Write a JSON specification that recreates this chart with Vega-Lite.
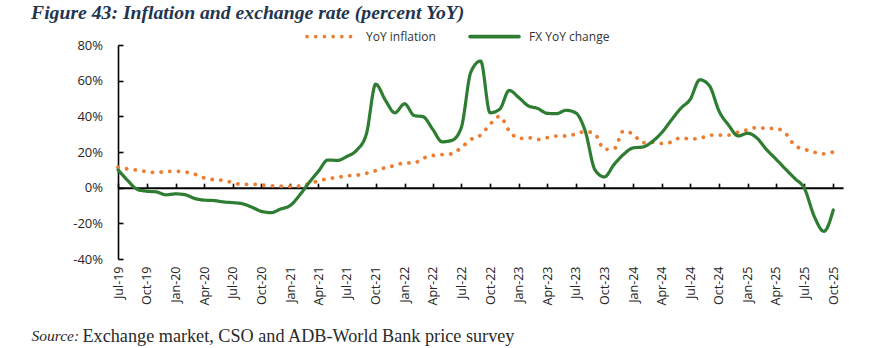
{
  "$schema": "https://vega.github.io/schema/vega-lite/v6.json",
  "width": 725,
  "height": 214,
  "autosize": "none",
  "padding": {"left": 118, "top": 45, "right": 27, "bottom": 89},
  "background": "white",
  "config": {"view": {"stroke": null}},
  "title": {
    "text": "Figure 43: Inflation and exchange rate (percent YoY)",
    "anchor": "start",
    "frame": "group",
    "dx": -87,
    "dy": 17,
    "offset": 4,
    "font": "Liberation Serif",
    "fontStyle": "italic",
    "fontWeight": "bold",
    "fontSize": 19.7,
    "color": "#1f3550"
  },
  "datasets": {
    "rows": [
      {"d":"2019-07-01","s":"YoY inflation","v":11.5},{"d":"2019-08-01","s":"YoY inflation","v":10.5},{"d":"2019-09-01","s":"YoY inflation","v":9.8},{"d":"2019-10-01","s":"YoY inflation","v":9.0},{"d":"2019-11-01","s":"YoY inflation","v":8.5},{"d":"2019-12-01","s":"YoY inflation","v":9.1},
      {"d":"2020-01-01","s":"YoY inflation","v":9.2},{"d":"2020-02-01","s":"YoY inflation","v":8.8},{"d":"2020-03-01","s":"YoY inflation","v":7.6},{"d":"2020-04-01","s":"YoY inflation","v":5.5},{"d":"2020-05-01","s":"YoY inflation","v":4.5},{"d":"2020-06-01","s":"YoY inflation","v":4.1},
      {"d":"2020-07-01","s":"YoY inflation","v":2.8},{"d":"2020-08-01","s":"YoY inflation","v":1.8},{"d":"2020-09-01","s":"YoY inflation","v":1.9},{"d":"2020-10-01","s":"YoY inflation","v":1.5},{"d":"2020-11-01","s":"YoY inflation","v":1.0},{"d":"2020-12-01","s":"YoY inflation","v":0.8},
      {"d":"2021-01-01","s":"YoY inflation","v":0.7},{"d":"2021-02-01","s":"YoY inflation","v":1.0},{"d":"2021-03-01","s":"YoY inflation","v":2.1},{"d":"2021-04-01","s":"YoY inflation","v":3.8},{"d":"2021-05-01","s":"YoY inflation","v":5.0},{"d":"2021-06-01","s":"YoY inflation","v":5.8},
      {"d":"2021-07-01","s":"YoY inflation","v":6.6},{"d":"2021-08-01","s":"YoY inflation","v":7.0},{"d":"2021-09-01","s":"YoY inflation","v":8.0},{"d":"2021-10-01","s":"YoY inflation","v":9.5},{"d":"2021-11-01","s":"YoY inflation","v":11.2},{"d":"2021-12-01","s":"YoY inflation","v":12.4},
      {"d":"2022-01-01","s":"YoY inflation","v":13.9},{"d":"2022-02-01","s":"YoY inflation","v":13.9},{"d":"2022-03-01","s":"YoY inflation","v":16.5},{"d":"2022-04-01","s":"YoY inflation","v":18.0},{"d":"2022-05-01","s":"YoY inflation","v":18.5},{"d":"2022-06-01","s":"YoY inflation","v":19.0},
      {"d":"2022-07-01","s":"YoY inflation","v":22.5},{"d":"2022-08-01","s":"YoY inflation","v":27.0},{"d":"2022-09-01","s":"YoY inflation","v":29.5},{"d":"2022-10-01","s":"YoY inflation","v":35.5},{"d":"2022-11-01","s":"YoY inflation","v":40.0},{"d":"2022-12-01","s":"YoY inflation","v":32.0},
      {"d":"2023-01-01","s":"YoY inflation","v":27.6},{"d":"2023-02-01","s":"YoY inflation","v":28.0},{"d":"2023-03-01","s":"YoY inflation","v":27.0},{"d":"2023-04-01","s":"YoY inflation","v":28.0},{"d":"2023-05-01","s":"YoY inflation","v":28.9},{"d":"2023-06-01","s":"YoY inflation","v":29.0},
      {"d":"2023-07-01","s":"YoY inflation","v":30.0},{"d":"2023-08-01","s":"YoY inflation","v":31.5},{"d":"2023-09-01","s":"YoY inflation","v":30.0},{"d":"2023-10-01","s":"YoY inflation","v":21.5},{"d":"2023-11-01","s":"YoY inflation","v":21.8},{"d":"2023-12-01","s":"YoY inflation","v":31.8},
      {"d":"2024-01-01","s":"YoY inflation","v":30.0},{"d":"2024-02-01","s":"YoY inflation","v":25.2},{"d":"2024-03-01","s":"YoY inflation","v":25.4},{"d":"2024-04-01","s":"YoY inflation","v":24.8},{"d":"2024-05-01","s":"YoY inflation","v":25.5},{"d":"2024-06-01","s":"YoY inflation","v":28.0},
      {"d":"2024-07-01","s":"YoY inflation","v":27.3},{"d":"2024-08-01","s":"YoY inflation","v":27.6},{"d":"2024-09-01","s":"YoY inflation","v":29.5},{"d":"2024-10-01","s":"YoY inflation","v":29.5},{"d":"2024-11-01","s":"YoY inflation","v":29.5},{"d":"2024-12-01","s":"YoY inflation","v":31.0},
      {"d":"2025-01-01","s":"YoY inflation","v":32.5},{"d":"2025-02-01","s":"YoY inflation","v":33.8},{"d":"2025-03-01","s":"YoY inflation","v":33.2},{"d":"2025-04-01","s":"YoY inflation","v":33.2},{"d":"2025-05-01","s":"YoY inflation","v":30.5},{"d":"2025-06-01","s":"YoY inflation","v":23.5},
      {"d":"2025-07-01","s":"YoY inflation","v":21.5},{"d":"2025-08-01","s":"YoY inflation","v":19.9},{"d":"2025-09-01","s":"YoY inflation","v":19.0},{"d":"2025-10-01","s":"YoY inflation","v":20.0},
      {"d":"2019-07-01","s":"FX YoY change","v":10},{"d":"2019-08-01","s":"FX YoY change","v":4},{"d":"2019-09-01","s":"FX YoY change","v":-1},{"d":"2019-10-01","s":"FX YoY change","v":-2},{"d":"2019-11-01","s":"FX YoY change","v":-2.4},{"d":"2019-12-01","s":"FX YoY change","v":-4},
      {"d":"2020-01-01","s":"FX YoY change","v":-3.5},{"d":"2020-02-01","s":"FX YoY change","v":-4},{"d":"2020-03-01","s":"FX YoY change","v":-6},{"d":"2020-04-01","s":"FX YoY change","v":-7},{"d":"2020-05-01","s":"FX YoY change","v":-7.2},{"d":"2020-06-01","s":"FX YoY change","v":-8},
      {"d":"2020-07-01","s":"FX YoY change","v":-8.4},{"d":"2020-08-01","s":"FX YoY change","v":-9},{"d":"2020-09-01","s":"FX YoY change","v":-11},{"d":"2020-10-01","s":"FX YoY change","v":-13.3},{"d":"2020-11-01","s":"FX YoY change","v":-14},{"d":"2020-12-01","s":"FX YoY change","v":-12},
      {"d":"2021-01-01","s":"FX YoY change","v":-10},{"d":"2021-02-01","s":"FX YoY change","v":-4},{"d":"2021-03-01","s":"FX YoY change","v":2.6},{"d":"2021-04-01","s":"FX YoY change","v":9.2},{"d":"2021-05-01","s":"FX YoY change","v":15.5},{"d":"2021-06-01","s":"FX YoY change","v":15.3},
      {"d":"2021-07-01","s":"FX YoY change","v":17.5},{"d":"2021-08-01","s":"FX YoY change","v":21},{"d":"2021-09-01","s":"FX YoY change","v":30},{"d":"2021-10-01","s":"FX YoY change","v":58},{"d":"2021-11-01","s":"FX YoY change","v":49},{"d":"2021-12-01","s":"FX YoY change","v":42},
      {"d":"2022-01-01","s":"FX YoY change","v":47},{"d":"2022-02-01","s":"FX YoY change","v":40.4},{"d":"2022-03-01","s":"FX YoY change","v":39.8},{"d":"2022-04-01","s":"FX YoY change","v":32.7},{"d":"2022-05-01","s":"FX YoY change","v":25.7},{"d":"2022-06-01","s":"FX YoY change","v":26.5},
      {"d":"2022-07-01","s":"FX YoY change","v":33.6},{"d":"2022-08-01","s":"FX YoY change","v":65},{"d":"2022-09-01","s":"FX YoY change","v":71},{"d":"2022-10-01","s":"FX YoY change","v":42},{"d":"2022-11-01","s":"FX YoY change","v":44},{"d":"2022-12-01","s":"FX YoY change","v":54.5},
      {"d":"2023-01-01","s":"FX YoY change","v":50.5},{"d":"2023-02-01","s":"FX YoY change","v":45.8},{"d":"2023-03-01","s":"FX YoY change","v":44.5},{"d":"2023-04-01","s":"FX YoY change","v":41.7},{"d":"2023-05-01","s":"FX YoY change","v":41.5},{"d":"2023-06-01","s":"FX YoY change","v":43.4},
      {"d":"2023-07-01","s":"FX YoY change","v":42},{"d":"2023-08-01","s":"FX YoY change","v":31.7},{"d":"2023-09-01","s":"FX YoY change","v":10},{"d":"2023-10-01","s":"FX YoY change","v":6},{"d":"2023-11-01","s":"FX YoY change","v":13},{"d":"2023-12-01","s":"FX YoY change","v":18.6},
      {"d":"2024-01-01","s":"FX YoY change","v":22.3},{"d":"2024-02-01","s":"FX YoY change","v":22.8},{"d":"2024-03-01","s":"FX YoY change","v":25.7},{"d":"2024-04-01","s":"FX YoY change","v":30.8},{"d":"2024-05-01","s":"FX YoY change","v":37.7},{"d":"2024-06-01","s":"FX YoY change","v":44.5},
      {"d":"2024-07-01","s":"FX YoY change","v":49.5},{"d":"2024-08-01","s":"FX YoY change","v":60.5},{"d":"2024-09-01","s":"FX YoY change","v":57},{"d":"2024-10-01","s":"FX YoY change","v":43},{"d":"2024-11-01","s":"FX YoY change","v":35},{"d":"2024-12-01","s":"FX YoY change","v":29},
      {"d":"2025-01-01","s":"FX YoY change","v":30.5},{"d":"2025-02-01","s":"FX YoY change","v":27.5},{"d":"2025-03-01","s":"FX YoY change","v":21.5},{"d":"2025-04-01","s":"FX YoY change","v":16},{"d":"2025-05-01","s":"FX YoY change","v":10.5},{"d":"2025-06-01","s":"FX YoY change","v":5},
      {"d":"2025-07-01","s":"FX YoY change","v":-0.5},{"d":"2025-08-01","s":"FX YoY change","v":-16},{"d":"2025-09-01","s":"FX YoY change","v":-24.5},{"d":"2025-10-01","s":"FX YoY change","v":-12.5}
    ]
  },
  "data": {"name": "rows"},
  "encoding": {
    "y": {
      "field": "v",
      "type": "quantitative",
      "scale": {"domain": [-40, 80], "nice": false, "zero": false},
      "axis": {
        "title": null,
        "values": [-40, -20, 0, 20, 40, 60, 80],
        "labelExpr": "datum.value + '%'",
        "grid": false,
        "domainColor": "#000000",
        "domainWidth": 1.6,
        "tickColor": "#000000",
        "tickWidth": 1.6,
        "tickSize": -5,
        "labelPadding": 20.5,
        "labelFont": "Open Sans",
        "labelFontSize": 13,
        "labelColor": "#262626"
      }
    },
    "color": {
      "field": "s",
      "type": "nominal",
      "scale": {"domain": ["YoY inflation", "FX YoY change"], "range": ["#ed7d31", "#2e7d32"]},
      "legend": {
        "orient": "none",
        "legendX": 187,
        "legendY": -35,
        "direction": "horizontal",
        "title": null,
        "symbolType": "stroke",
        "symbolSize": 2400,
        "symbolStrokeWidth": 3.6,
        "labelFont": "Open Sans",
        "labelFontSize": 12,
        "labelColor": "#333333",
        "labelOffset": 8,
        "columnPadding": 26,
        "encoding": {"symbols": {"strokeCap": {"value": "round"}}}
      }
    },
    "strokeDash": {
      "field": "s",
      "type": "nominal",
      "scale": {"domain": ["YoY inflation", "FX YoY change"], "range": [[0.1, 8.6], [1, 0]]},
      "legend": null
    }
  },
  "layer": [
    {
      "transform": [{"filter": "datum.s === 'YoY inflation'"}],
      "mark": {"type": "line", "strokeWidth": 3.8, "strokeCap": "round", "interpolate": "monotone"},
      "encoding": {
        "x": {
          "field": "d",
          "type": "temporal",
          "scale": {"type": "utc", "domain": ["2019-07-01", "2025-11-01"], "nice": false},
          "axis": {
            "orient": "bottom",
            "format": "%b-%y",
            "tickCount": {"interval": "month", "step": 3},
            "labelAngle": 270,
            "labelFlush": false,
            "labelOverlap": false,
            "domain": false,
            "ticks": false,
            "grid": false,
            "labelPadding": 7,
            "labelFont": "Open Sans",
            "labelFontSize": 12.5,
            "labelColor": "#262626",
            "title": "Exchange market, CSO and ADB-World Bank price survey",
            "titleFont": "Liberation Serif",
            "titleFontWeight": "normal",
            "titleFontSize": 18.2,
            "titleColor": "#2a2a2a",
            "titleAnchor": "start",
            "titleAlign": "left",
            "titleBaseline": "alphabetic",
            "titleX": -36,
            "titleY": 82
          }
        }
      }
    },
    {
      "transform": [{"filter": "datum.s === 'FX YoY change'"}],
      "mark": {"type": "line", "strokeWidth": 3.2, "strokeCap": "round", "interpolate": "monotone"},
      "encoding": {
        "x": {
          "field": "d",
          "type": "temporal",
          "scale": {"type": "utc", "domain": ["2019-07-01", "2025-11-01"], "nice": false},
          "axis": {
            "orient": "top",
            "offset": -142.67,
            "tickCount": {"interval": "month", "step": 3},
            "labels": false,
            "grid": false,
            "domain": true,
            "domainColor": "#000000",
            "domainWidth": 2,
            "ticks": true,
            "tickColor": "#000000",
            "tickWidth": 1.6,
            "tickSize": 4.5,
            "title": "Source:",
            "titleFont": "Liberation Serif",
            "titleFontStyle": "italic",
            "titleFontWeight": "normal",
            "titleFontSize": 15.5,
            "titleColor": "#2a2a2a",
            "titleAnchor": "start",
            "titleAlign": "left",
            "titleBaseline": "alphabetic",
            "titleX": -87,
            "titleY": 153
          }
        }
      }
    }
  ],
  "resolve": {"axis": {"x": "independent"}}
}
